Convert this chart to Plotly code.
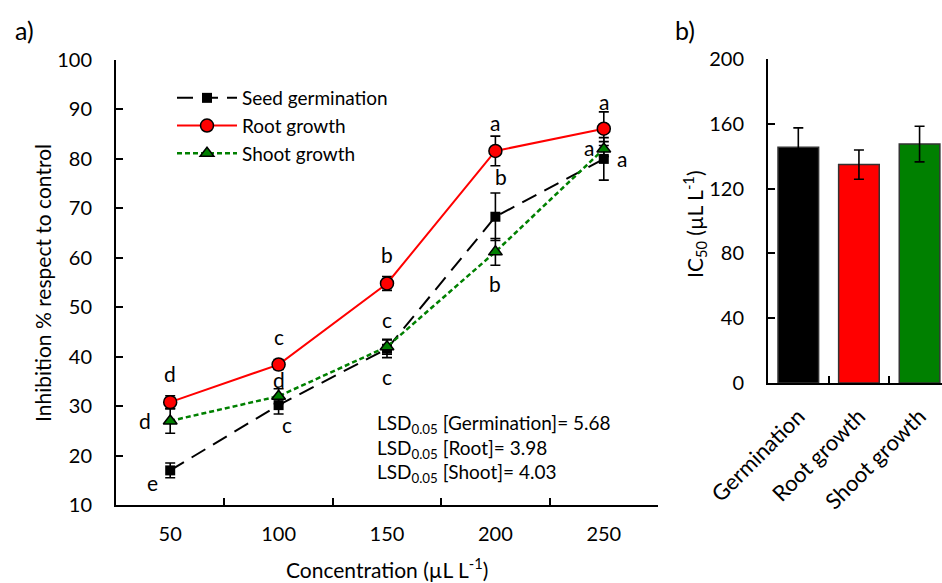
import plotly.graph_objects as go

# ---------------- data ----------------
concentrations = ["50", "100", "150", "200", "250"]

germination = [17.0, 30.2, 41.6, 68.3, 80.0]
germination_err = [1.5, 1.8, 1.8, 4.8, 4.3]
germination_letters = ["e", "c", "c", "b", "a"]

root = [30.8, 38.4, 54.8, 81.6, 86.1]
root_err = [1.3, 1.0, 1.4, 3.0, 3.4]
root_letters = ["d", "c", "b", "a", "a"]

shoot = [27.0, 32.0, 42.0, 61.2, 82.0]
shoot_err = [2.5, 1.5, 1.5, 2.7, 1.5]
shoot_letters = ["d", "d", "c", "b", "a"]

ic50_labels = ["Germination", "Root growth", "Shoot growth"]
ic50_values = [145.5, 134.8, 147.5]
ic50_err = [12.0, 9.0, 11.0]

lsd_names = ["Germination", "Root", "Shoot"]
lsd_values = [5.68, 3.98, 4.03]

# ---------------- styles ----------------
FONT = "Lato"
BLACK = "#000000"
RED = "#FF0000"
GREEN = "#008000"

# letter offsets (pixels) per series, per point
germ_shift = [(-18, -12), (8, -19), (0, -28), (6, 40), (18, 0)]
root_shift = [(0, 29), (0, 28), (0, 29), (0, 28), (0, 27)]
shoot_shift = [(-25, 0), (0, 17), (0, 27), (0, -32), (-15, 2)]

W, H = 942, 583

fig = go.Figure()

err_style = dict(type="data", visible=True, color=BLACK, thickness=1.6, width=5)

fig.add_trace(go.Scatter(
    x=concentrations, y=germination, name="Seed germination",
    mode="lines+markers", xaxis="x", yaxis="y",
    line=dict(color=BLACK, width=2, dash="16px,9px"),
    marker=dict(symbol="square", size=10, color=BLACK),
    error_y=dict(array=germination_err, **err_style),
))
fig.add_trace(go.Scatter(
    x=concentrations, y=root, name="Root growth",
    mode="lines+markers", xaxis="x", yaxis="y",
    line=dict(color=RED, width=2),
    marker=dict(symbol="circle", size=13, color=RED, line=dict(color=BLACK, width=1.5)),
    error_y=dict(array=root_err, **err_style),
))
fig.add_trace(go.Scatter(
    x=concentrations, y=shoot, name="Shoot growth",
    mode="lines+markers", xaxis="x", yaxis="y",
    line=dict(color=GREEN, width=2.5, dash="5px,3px"),
    marker=dict(symbol="triangle-up", size=12, color=GREEN, line=dict(color=BLACK, width=1.5)),
    error_y=dict(array=shoot_err, **err_style),
))

fig.add_trace(go.Bar(
    x=ic50_labels, y=ic50_values, xaxis="x2", yaxis="y2", showlegend=False,
    width=0.67,
    marker=dict(color=[BLACK, RED, GREEN], line=dict(color="#333333", width=1.5)),
    error_y=dict(array=ic50_err, **err_style),
))

annotations = []
for vals, letters, shifts in [(germination, germination_letters, germ_shift),
                              (root, root_letters, root_shift),
                              (shoot, shoot_letters, shoot_shift)]:
    for i, (v, l, (dx, dy)) in enumerate(zip(vals, letters, shifts)):
        annotations.append(dict(x=i, y=v, xref="x", yref="y", text=l, showarrow=False,
                                xanchor="center", yanchor="middle",
                                xshift=dx, yshift=dy, font=dict(size=21, family=FONT, color=BLACK)))

lsd_text = "<br>".join(f"LSD<sub>0.05</sub> [{n}]= {v:.2f}" for n, v in zip(lsd_names, lsd_values))
annotations.append(dict(x=375 / W, y=1 - 448 / H, xref="paper", yref="paper", xanchor="left",
                        yanchor="middle", align="left", text=lsd_text, showarrow=False,
                        font=dict(size=19, family=FONT, color=BLACK)))

title_font = dict(size=21, family=FONT, color=BLACK)
annotations += [
    dict(x=42 / W, y=1 - 283 / H, text="Inhibition % respect to control", textangle=-90,
         font=title_font),
    dict(x=387 / W, y=1 - 568 / H, text="Concentration (µL L<sup>-1</sup>)", font=title_font),
    dict(x=694 / W, y=1 - 224 / H, text="IC<sub>50</sub> (µL L<sup>-1</sup>)", textangle=-90,
         font=title_font),
    dict(x=24 / W, y=1 - 30 / H, text="a)", font=dict(size=25, family=FONT, color=BLACK)),
    dict(x=685 / W, y=1 - 30 / H, text="b)", font=dict(size=25, family=FONT, color=BLACK)),
]
for a in annotations[-5:]:
    a.update(xref="paper", yref="paper", xanchor="center", yanchor="middle", showarrow=False)

axis_common = dict(showline=True, linecolor=BLACK, linewidth=2, ticks="inside", ticklen=7,
                   tickwidth=2, tickcolor=BLACK, showgrid=False, zeroline=False,
                   automargin=False, tickfont=dict(size=20, family=FONT, color=BLACK))

fig.update_layout(
    template="none",
    width=W, height=H,
    autosize=False,
    margin=dict(l=0, r=0, t=0, b=0, pad=0),
    paper_bgcolor="white", plot_bgcolor="white",
    font=dict(family=FONT, color=BLACK),
    xaxis=dict(domain=[116 / W, 658 / W], anchor="y", type="category",
               categoryorder="array", categoryarray=concentrations,
               range=[-0.5, 4.5], tickson="boundaries", ticklabelstandoff=10, **axis_common),
    yaxis=dict(domain=[1 - 505 / H, 1 - 60 / H], anchor="x", range=[10, 100], dtick=10,
               ticklabelstandoff=18, **axis_common),
    xaxis2=dict(domain=[768 / W, 1.0], anchor="y2", type="category",
                categoryorder="array", categoryarray=ic50_labels,
                range=[-0.5, 2.37], tickson="boundaries", tickangle=-45, ticklabelstandoff=10,
                **{**axis_common, "tickfont": dict(size=22, family=FONT, color=BLACK)}),
    yaxis2=dict(domain=[1 - 383 / H, 1 - 59 / H], anchor="x2", range=[0, 200], dtick=40,
                ticklabelstandoff=18, **axis_common),
    legend=dict(x=172 / W, y=1 - 79 / H, xanchor="left", yanchor="top", itemwidth=60,
                bgcolor="rgba(0,0,0,0)", font=dict(size=19, family=FONT, color=BLACK),
                tracegroupgap=0),
    annotations=annotations,
    showlegend=True,
)

fig.write_html("out.html",
               config={"displayModeBar": False},
               post_script="document.body.style.margin='0px';document.body.style.padding='0px';"
                           "document.body.style.overflow='hidden';")
